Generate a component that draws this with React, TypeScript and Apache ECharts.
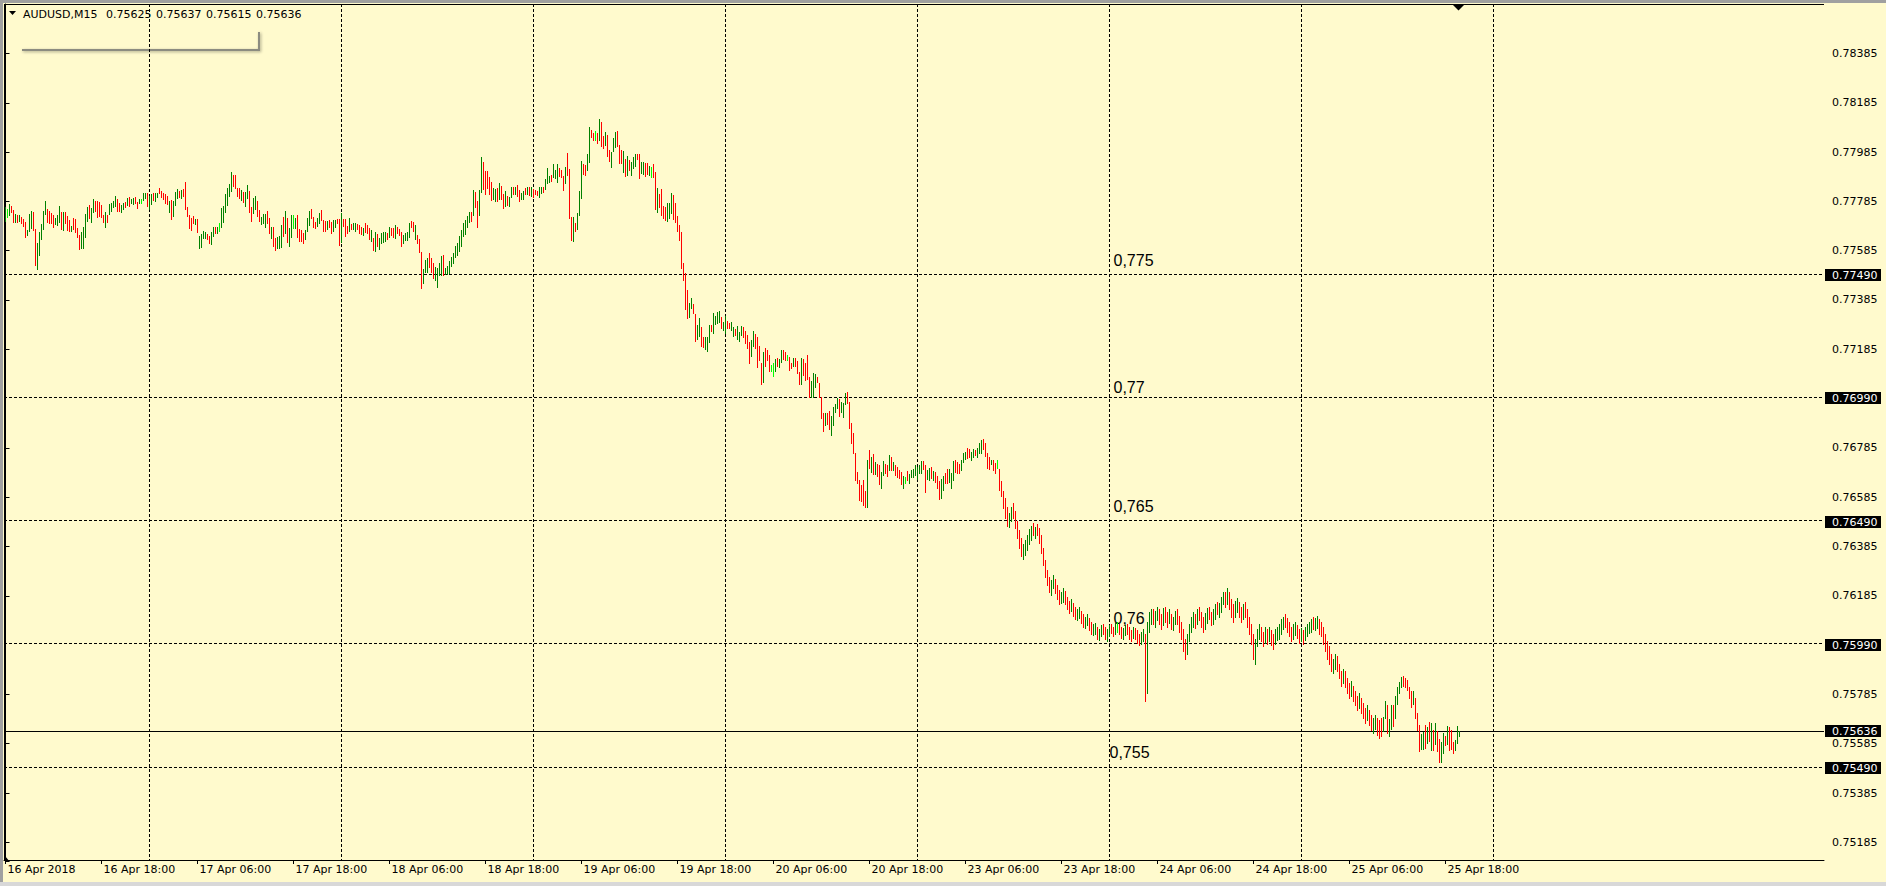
import React, { useEffect, useRef } from "react";
import * as echarts from "echarts";

const FONT = "'DejaVu Sans', Tahoma, sans-serif";
const BG = "#FFFACD";
const FRAME = "#A0A0A0";
const UP = "#008000";
const DOWN = "#FF0000";
const DOJI = "#00FF00";

const symbolName = "AUDUSD,M15";
const headerValues = [0.75625, 0.75637, 0.75615, 0.75636];

const xTickBars = [0, 48, 96, 144, 192, 240, 288, 336, 384, 432, 480, 528, 576, 624, 672, 720];
const xTickLabels = [
  "16 Apr 2018", "16 Apr 18:00", "17 Apr 06:00", "17 Apr 18:00", "18 Apr 06:00", "18 Apr 18:00",
  "19 Apr 06:00", "19 Apr 18:00", "20 Apr 06:00", "20 Apr 18:00", "23 Apr 06:00", "23 Apr 18:00",
  "24 Apr 06:00", "24 Apr 18:00", "25 Apr 06:00", "25 Apr 18:00",
];
const daySeparatorBars = [72, 168, 264, 360, 456, 552, 648, 744];
const yTickValues = [
  0.75185, 0.75385, 0.75585, 0.75785, 0.76185, 0.76385, 0.76585, 0.76785,
  0.77185, 0.77385, 0.77585, 0.77785, 0.77985, 0.78185, 0.78385,
];
const levelPrices = [0.7749, 0.7699, 0.7649, 0.7599, 0.7549];
const levelTexts = ["0,775", "0,77", "0,765", "0,76", "0,755"];
const levelTextPrices = [0.77544, 0.77032, 0.76547, 0.76092, 0.75551];
const levelTextBars = [552, 552, 552, 552, 550];
const bidPrice = 0.75636;

// 15-minute bars from 16 Apr 06:00, prices in 1e-5
const barHigh = [
  77761,77753,77775,77767,77751,77734,77730,77730,77720,77714,
  77703,77670,77734,77747,77741,77674,77618,77659,77694,77747,
  77787,77753,77747,77737,77730,77717,77730,77767,77741,77744,
  77744,77726,77710,77686,77717,77714,77679,77649,77659,77680,
  77734,77761,77771,77757,77794,77788,77787,77782,77771,77730,
  77744,77730,77775,77780,77787,77805,77794,77780,77771,77780,
  77784,77798,77801,77794,77798,77802,77784,77794,77794,77818,
  77821,77821,77807,77814,77818,77821,77821,77839,77829,77818,
  77814,77805,77787,77791,77787,77825,77834,77828,77832,77834,
  77863,77764,77730,77717,77726,77713,77713,77645,77652,77663,
  77659,77653,77645,77659,77680,77683,77683,77699,77757,77768,
  77814,77839,77855,77903,77893,77893,77841,77841,77832,77825,
  77825,77852,77828,
  77764,77797,77807,77787,77750,77723,77734,77734,77746,77716,
  77680,77680,77635,77642,77645,77689,77723,77746,77716,77676,
  77730,77730,77716,77730,77673,77669,77655,77669,77716,77747,
  77753,77723,77703,77716,77739,77750,77710,77705,77705,77710,
  77703,77710,77710,77712,77712,77739,77712,77714,77685,77716,
  77692,77696,77696,77692,77689,77680,77676,77696,77689,77676,
  77669,77638,77662,77651,77635,77658,77662,77662,77658,77680,
  77678,77676,77689,77682,77672,77662,77649,77658,77662,77696,
  77707,77703,77689,77649,77631,77581,77509,77547,77554,77574,
  77554,77536,77518,77513,77534,77563,77568,77513,77523,77545,
  77561,77577,77604,77615,77645,77669,77696,77710,77726,77741,
  77743,77831,77824,77787,77831,77964,77946,77910,77910,77885,
  77865,77838,77834,77841,77858,
  77847,77815,77828,77807,77804,77842,77842,77842,77851,77831,
  77820,77828,77838,77842,77842,77842,77834,77831,77828,77842,
  77845,77842,77874,77919,77888,77892,77936,77912,77936,77919,
  77912,77888,77926,77982,77915,77723,77723,77696,77736,77828,
  77950,77936,77932,77976,78085,78074,78064,78070,78061,78119,
  78108,78050,78065,78054,77993,77986,78043,78065,78070,78013,
  77993,77989,77955,77969,77953,77946,77966,77976,77977,77976,
  77943,77943,77939,77942,77928,77926,77936,77905,77838,77815,
  77835,77767,77763,77780,77777,77820,77811,77780,77726,77689,
  77659,77534,77496,77425,77374,77394,77369,77328,77283,77310,
  77277,77233,77233,77236,77283,77283,77333,77320,77337,77340,
  77317,77297,77320,77301,77293,77297,77274,77266,77279,77256,
  77279,77277,77260,77243,77216,
  77223,77260,77247,77236,77198,77131,77175,77189,77182,77162,
  77121,77131,77144,77151,77144,77182,77182,77175,77162,77155,
  77131,77148,77151,77139,77094,77148,77144,77128,77162,77074,
  77058,77087,77085,77074,77049,76993,76925,76925,76925,76936,
  76914,76952,76963,76989,76982,76972,76966,77009,77013,76972,
  76885,76844,76763,76689,76655,76634,76655,76611,76736,76776,
  76747,76759,76729,76720,76716,76689,76732,76720,76716,76756,
  76749,76729,76716,76709,76695,76689,76671,76668,76693,76678,
  76695,76698,76716,76706,76716,76732,76733,76716,76695,76702,
  76706,76693,76686,76671,76652,76657,76671,76682,76698,76698,
  76682,76732,76736,76729,76720,76736,76766,76770,76783,76779,
  76770,76779,76776,76783,76803,76817,76820,76806,76763,76749,
  76736,76736,76722,76736,76698,
  76650,76610,76580,76545,76520,76545,76560,76530,76490,76450,
  76420,76395,76410,76430,76455,76470,76480,76465,76478,76460,
  76430,76380,76330,76290,76260,76250,76270,76255,76230,76210,
  76200,76215,76205,76180,76165,76170,76155,76140,76130,76140,
  76125,76110,76100,76110,76095,76080,76070,76075,76060,76050,
  76065,76070,76060,76050,76065,76070,76060,76075,76080,76070,
  76060,76055,76065,76070,76060,76045,76060,76055,76045,76030,
  76040,76050,76030,76080,76120,76130,76130,76125,76140,76130,
  76110,76135,76140,76120,76130,76110,76100,76125,76130,76105,
  76080,76050,76010,76030,76070,76100,76120,76110,76130,76140,
  76120,76100,76115,76135,76140,76120,76130,76150,76160,76155,
  76180,76200,76200,76215,76200,76170,76150,76165,76175,76160,
  76140,76150,76160,76130,76100,76070,76030,76010,76050,76070,
  76060,76040,76060,76050,76060,76045,76030,76050,76060,76070,
  76090,76100,76110,76095,76080,76060,76070,76080,76065,76050,
  76055,76045,76060,76070,76080,76090,76100,76095,76105,76090,
  76080,76060,76030,76000,75980,75950,75930,75950,75940,75910,
  75880,75890,75880,75850,75830,75840,75820,75800,75780,75790,
  75770,75750,75730,75740,75720,75700,75690,75700,75690,75680,
  75690,75694,75758,75742,75685,75742,75742,75779,75813,75836,
  75857,75860,75850,75843,75816,75800,75798,75769,75708,75660,
  75624,75633,75660,75654,75674,75667,75640,75670,75636,75604,
  75593,75629,75617,75656,75651,75640,75593,75600,75656,75637,
];
const barLow = [
  77707,77720,77730,77740,77701,77703,77701,77707,77697,77687,
  77642,77647,77663,77676,77670,77528,77510,77568,77632,77672,
  77733,77703,77699,77699,77680,77694,77690,77703,77672,77670,
  77699,77670,77665,77665,77672,77659,77642,77592,77595,77595,
  77642,77706,77717,77703,77744,77747,77720,77724,77720,77701,
  77680,77703,77734,77747,77761,77767,77747,77747,77744,77753,
  77761,77771,77767,77778,77775,77780,77757,77778,77780,77791,
  77798,77767,77753,77774,77791,77787,77801,77818,77801,77794,
  77780,77774,77744,77713,77724,77771,77798,77801,77798,77805,
  77753,77726,77676,77670,77697,77694,77659,77595,77602,77636,
  77636,77632,77615,77613,77645,77656,77656,77665,77683,77703,
  77740,77771,77807,77829,77848,77839,77807,77798,77791,77784,
  77767,77798,77740,
  77705,77739,77753,77726,77705,77692,77699,77680,77699,77658,
  77638,77604,77588,77595,77595,77599,77645,77658,77622,77604,
  77642,77676,77676,77642,77626,77626,77615,77631,77666,77689,
  77716,77680,77676,77685,77699,77710,77666,77666,77672,77682,
  77655,77666,77680,77696,77608,77622,77685,77645,77658,77666,
  77672,77672,77666,77672,77655,77651,77649,77662,77658,77631,
  77626,77588,77585,77604,77591,77618,77622,77624,77631,77642,
  77649,77642,77635,77655,77649,77604,77615,77628,77628,77642,
  77680,77666,77631,77615,77578,77432,77455,77500,77500,77520,
  77500,77473,77466,77439,77486,77486,77486,77491,77491,77493,
  77523,77534,77561,77568,77584,77604,77645,77651,77680,77703,
  77707,77730,77764,77682,77730,77824,77834,77814,77838,77814,
  77791,77793,77787,77787,77793,
  77794,77759,77766,77770,77766,77804,77817,77817,77807,77788,
  77793,77794,77815,77815,77811,77808,77804,77815,77811,77804,
  77820,77824,77834,77861,77865,77869,77882,77878,77865,77888,
  77882,77831,77861,77892,77719,77628,77624,77666,77675,77730,
  77800,77896,77892,77912,77946,78047,78034,78036,78020,78034,
  78009,78003,78013,77969,77949,77926,77989,78007,78009,77942,
  77939,77905,77888,77892,77912,77892,77919,77928,77955,77881,
  77901,77896,77888,77896,77892,77882,77885,77754,77743,77763,
  77730,77719,77709,77707,77716,77739,77712,77703,77665,77628,
  77516,77466,77348,77313,77317,77351,77331,77220,77225,77239,
  77198,77196,77185,77179,77216,77259,77252,77287,77293,77297,
  77270,77263,77252,77270,77270,77263,77239,77243,77225,77220,
  77243,77236,77212,77189,77128,
  77158,77198,77189,77114,77141,77043,77054,77117,77141,77097,
  77097,77077,77097,77117,77114,77135,77144,77141,77141,77101,
  77108,77117,77117,77090,77044,77044,77081,77060,77063,76990,
  76993,76993,77033,77051,76993,76908,76853,76878,76882,76860,
  76837,76878,76932,76945,76914,76932,76912,76962,76968,76864,
  76806,76763,76655,76644,76574,76571,76553,76544,76544,76702,
  76689,76679,76679,76671,76638,76624,76675,76682,76671,76695,
  76695,76695,76675,76668,76661,76638,76624,76641,76655,76641,
  76666,76668,76675,76657,76682,76682,76698,76607,76657,76655,
  76661,76655,76648,76624,76576,76580,76614,76641,76644,76648,
  76621,76655,76689,76682,76682,76695,76729,76738,76743,76749,
  76736,76749,76756,76749,76766,76763,76779,76752,76702,76698,
  76720,76695,76682,76702,76614,
  76590,76540,76500,76470,76465,76490,76500,76460,76420,76380,
  76345,76335,76350,76370,76395,76410,76430,76420,76430,76400,
  76360,76310,76260,76230,76200,76190,76215,76195,76170,76150,
  76155,76160,76150,76130,76115,76125,76105,76090,76085,76095,
  76075,76060,76055,76065,76045,76030,76025,76030,76010,76005,
  76020,76030,76010,76000,76020,76035,76020,76030,76040,76030,
  76015,76010,76025,76030,76010,76000,76015,76010,75995,75985,
  75990,76000,75760,75790,76040,76070,76070,76060,76085,76070,
  76050,76065,76080,76060,76075,76050,76045,76070,76070,76040,
  76010,75960,75930,75950,76000,76040,76060,76055,76070,76085,
  76060,76040,76050,76075,76090,76065,76070,76090,76110,76100,
  76120,76150,76140,76150,76130,76100,76080,76100,76120,76100,
  76080,76090,76100,76060,76030,75990,75930,75910,75980,76010,
  76000,75980,75995,75990,76000,75985,75970,75990,76005,76010,
  76030,76050,76060,76040,76020,76000,76010,76025,76015,75995,
  76000,75990,76005,76020,76035,76040,76050,76045,76055,76030,
  76020,75990,75960,75930,75910,75880,75870,75890,75880,75850,
  75820,75830,75815,75790,75770,75780,75760,75740,75720,75730,
  75710,75690,75670,75680,75660,75640,75630,75645,75620,75610,
  75616,75636,75690,75629,75617,75644,75658,75690,75746,75792,
  75813,75819,75813,75802,75769,75735,75748,75688,75640,75556,
  75563,75563,75566,75586,75597,75559,75559,75583,75556,75512,
  75512,75546,75579,75583,75559,75562,75548,75559,75586,75615,
];
// u = bull bar, d = bear bar, n = doji
const barDir =
  "unuddududd" + "duuudduuuu" + "udddduuudu" + "dddudddduu" + "uuduuddddd" +
  "uduuuudduu" + "duduuddunu" + "uduuduuddd" + "dduduuudud" + "ddddduduuu" +
  "udduudunuu" + "uuuuddddud" + "uud" +
  "duudduuudd" + "udduuududu" + "unudddduuu" + "ddduudddud" + "duuddudddu" +
  "duuddduddd" + "ududuuuudu" + "dduddduuuu" + "dduddduuud" + "dduuuuduuu" +
  "uuuuuuuuuu" + "dudduudddd" + "duudu" +
  "dduduududd" + "uudududddu" + "uduuuduuud" + "dduddduduu" + "udduuddndu" +
  "ddudduuudd" + "dududuuudd" + "uuddunddud" + "ddduuudddd" + "dddduudduu" +
  "dduuuduuuu" + "duudduuduu" + "udddd" +
  "uudddduddd" + "nnuduuddnd" + "dudddudddd" + "uuuddddudd" + "uuuuduuudd" +
  "ddddddddud" + "ududduuddu" + "duddddundu" + "uuuuuudduu" + "duddduuddu" +
  "uuddduuudd" + "uuduuudddd" + "uddnd" +
  "dddduudddd" + "duuuuududd" + "ddddduuddd" + "uudddudduu" + "dduudduudu" +
  "udduuddund" + "duuddduddd" + "uuduuuduud" + "dudduduudd" + "ddduuuudud" +
  "dduudduudu" + "uududdduud" + "duddddduuu" + "ddududduuu" + "uudddduudd" +
  "uduuuuduud" + "dddddduudd" + "dudddudddu" + "dddudduudd" + "duuduuduuu" +
  "uddddduddd" + "uududududd" + "uududdduuu";

const X_MIN = -0.75;
const X_MAX = 909.25;
const Y_MIN = 0.751132;
const Y_MAX = 0.785858;

const px = (v: number) => Math.round(v - 0.5) + 0.5;

export default function App() {
  const ref = useRef<HTMLDivElement>(null);
  useEffect(() => {
    if (!ref.current) return;
    const chart = echarts.init(ref.current, undefined, { renderer: "svg" });
    const n = Math.min(barHigh.length, barLow.length, barDir.length);
    const barData = [];
    for (let i = 0; i < n; i++) {
      const c = barDir[i];
      barData.push([i, barHigh[i] / 1e5, barLow[i] / 1e5, c === "u" ? 1 : c === "d" ? -1 : 0]);
    }
    const labelFor = (v: number) => {
      const k = xTickBars.indexOf(Math.round(v));
      return k >= 0 ? xTickLabels[k] : "";
    };
    const option: any = {
      animation: false,
      backgroundColor: BG,
      textStyle: { fontFamily: FONT },
      grid: { left: 4, top: 4, width: 1820, height: 856, containLabel: false },
      xAxis: {
        type: "value",
        min: X_MIN,
        max: X_MAX,
        axisLine: { show: true, lineStyle: { color: "#000", width: 1 } },
        axisTick: { show: true, customValues: xTickBars, length: 4, lineStyle: { color: "#000" } },
        axisLabel: {
          show: true,
          customValues: xTickBars,
          formatter: labelFor,
          align: "left",
          margin: 4,
          color: "#000",
          fontSize: 11,
          fontFamily: FONT,
          padding: [0, 0, 0, 2],
        },
        splitLine: { show: false },
      },
      yAxis: {
        type: "value",
        position: "right",
        min: Y_MIN,
        max: Y_MAX,
        axisLine: { show: true, lineStyle: { color: "#000", width: 1 } },
        axisTick: { show: true, customValues: yTickValues, length: 4, lineStyle: { color: "#000" } },
        axisLabel: {
          show: true,
          customValues: yTickValues,
          formatter: (v: number) => v.toFixed(5),
          margin: 8,
          color: "#000",
          fontSize: 11,
          fontFamily: FONT,
        },
        splitLine: { show: false },
      },
      series: [
        {
          type: "custom",
          name: "daySeparators",
          silent: true,
          clip: false,
          z: 1,
          encode: { x: 0, y: 1 },
          data: daySeparatorBars.map((b) => [b, Y_MAX]),
          renderItem: (params: any, api: any) => {
            const c = api.coord([api.value(0), api.value(1)]);
            const cs = params.coordSys;
            const x = px(c[0]);
            return {
              type: "line",
              shape: { x1: x, y1: cs.y, x2: x, y2: cs.y + cs.height },
              style: { stroke: "#000", lineWidth: 1, lineDash: [3, 2] },
            };
          },
        },
        {
          type: "custom",
          name: "levels",
          silent: true,
          clip: false,
          z: 2,
          encode: { x: 0, y: 1 },
          data: levelPrices.map((p, k) => [levelTextBars[k], p, k, levelTextPrices[k]]),
          renderItem: (params: any, api: any) => {
            const k = api.value(2);
            const c = api.coord([api.value(0), api.value(1)]);
            const t = api.coord([api.value(0), api.value(3)]);
            const cs = params.coordSys;
            const y = px(c[1]);
            const right = cs.x + cs.width;
            return {
              type: "group",
              children: [
                {
                  type: "line",
                  shape: { x1: cs.x, y1: y, x2: right, y2: y },
                  style: { stroke: "#000", lineWidth: 1, lineDash: [3, 2] },
                },
                {
                  type: "text",
                  x: px(c[0]) + 4,
                  y: t[1],
                  style: {
                    text: levelTexts[k],
                    fill: "#000",
                    font: "16px 'Liberation Sans', Arial, sans-serif",
                    align: "left",
                    verticalAlign: "middle",
                  },
                },
                {
                  type: "rect",
                  shape: { x: right + 1, y: Math.round(c[1]) - 5, width: 56, height: 12 },
                  style: { fill: "#000" },
                },
                {
                  type: "text",
                  x: right + 8,
                  y: Math.round(c[1]) + 1,
                  style: {
                    text: api.value(1).toFixed(5),
                    fill: "#fff",
                    font: "11px " + FONT,
                    align: "left",
                    verticalAlign: "middle",
                  },
                },
              ],
            };
          },
        },
        {
          type: "custom",
          name: "bid",
          silent: true,
          clip: false,
          z: 3,
          encode: { x: 0, y: 1 },
          data: [[0, bidPrice]],
          renderItem: (params: any, api: any) => {
            const c = api.coord([api.value(0), api.value(1)]);
            const cs = params.coordSys;
            const y = px(c[1]);
            const right = cs.x + cs.width;
            return {
              type: "group",
              children: [
                {
                  type: "line",
                  shape: { x1: cs.x, y1: y, x2: right, y2: y },
                  style: { stroke: "#000", lineWidth: 1 },
                },
                {
                  type: "rect",
                  shape: { x: right + 1, y: Math.round(c[1]) - 6, width: 56, height: 12 },
                  style: { fill: "#000" },
                },
                {
                  type: "text",
                  x: right + 8,
                  y: Math.round(c[1]),
                  style: {
                    text: api.value(1).toFixed(5),
                    fill: "#fff",
                    font: "11px " + FONT,
                    align: "left",
                    verticalAlign: "middle",
                  },
                },
              ],
            };
          },
        },
        {
          type: "custom",
          name: "AUDUSD",
          silent: true,
          clip: false,
          z: 5,
          encode: { x: 0, y: [1, 2] },
          data: barData,
          renderItem: (params: any, api: any) => {
            const i = api.value(0);
            const top = api.coord([i, api.value(1)]);
            const bot = api.coord([i, api.value(2)]);
            const d = api.value(3);
            const x = px(top[0]);
            return {
              type: "line",
              shape: { x1: x, y1: Math.round(top[1]), x2: x, y2: Math.round(bot[1]) + 1 },
              style: { stroke: d > 0 ? UP : d < 0 ? DOWN : DOJI, lineWidth: 1 },
            };
          },
        },
      ],
      graphic: [
        { type: "rect", silent: true, shape: { x: 0, y: 0, width: 1886, height: 3 }, style: { fill: FRAME } },
        { type: "rect", silent: true, shape: { x: 0, y: 0, width: 3, height: 886 }, style: { fill: FRAME } },
        { type: "rect", silent: true, shape: { x: 0, y: 882, width: 1886, height: 4 }, style: { fill: "#D8D8D8" } },
        { type: "line", silent: true, shape: { x1: 4, y1: 4.5, x2: 1824, y2: 4.5 }, style: { stroke: "#000", lineWidth: 1 } },
        { type: "line", silent: true, shape: { x1: 4.5, y1: 4, x2: 4.5, y2: 860 }, style: { stroke: "#000", lineWidth: 1 } },
        { type: "polygon", silent: true, shape: { points: [[1453, 5], [1464, 5], [1458.5, 10.5]] }, style: { fill: "#000" } },
        { type: "polygon", silent: true, shape: { points: [[5, 856], [5, 862], [10, 862]] }, style: { fill: "#000" } },
        { type: "polygon", silent: true, shape: { points: [[9, 11], [16, 11], [12.5, 15]] }, style: { fill: "#000" } },
        {
          type: "text",
          silent: true,
          x: 23,
          y: 14,
          style: { text: symbolName, fill: "#000", font: "11px " + FONT, verticalAlign: "middle" },
        },
        ...headerValues.map((v, k) => ({
          type: "text",
          silent: true,
          x: 106 + k * 50,
          y: 14,
          style: { text: v.toFixed(5), fill: "#000", font: "11px " + FONT, verticalAlign: "middle" },
        })),
        {
          type: "polyline",
          silent: true,
          shape: { points: [[22, 50], [259, 50], [259, 32]] },
          style: {
            stroke: "#8C8C80",
            lineWidth: 2,
            fill: null,
            shadowBlur: 3,
            shadowColor: "rgba(0,0,0,0.35)",
            shadowOffsetY: 1,
            shadowOffsetX: 1,
          },
        },
      ],
    };
    chart.setOption(option);
    return () => chart.dispose();
  }, []);
  return (
    <div
      ref={ref}
      style={{ position: "fixed", left: 0, top: 0, width: 1886, height: 886, background: BG }}
    />
  );
}
